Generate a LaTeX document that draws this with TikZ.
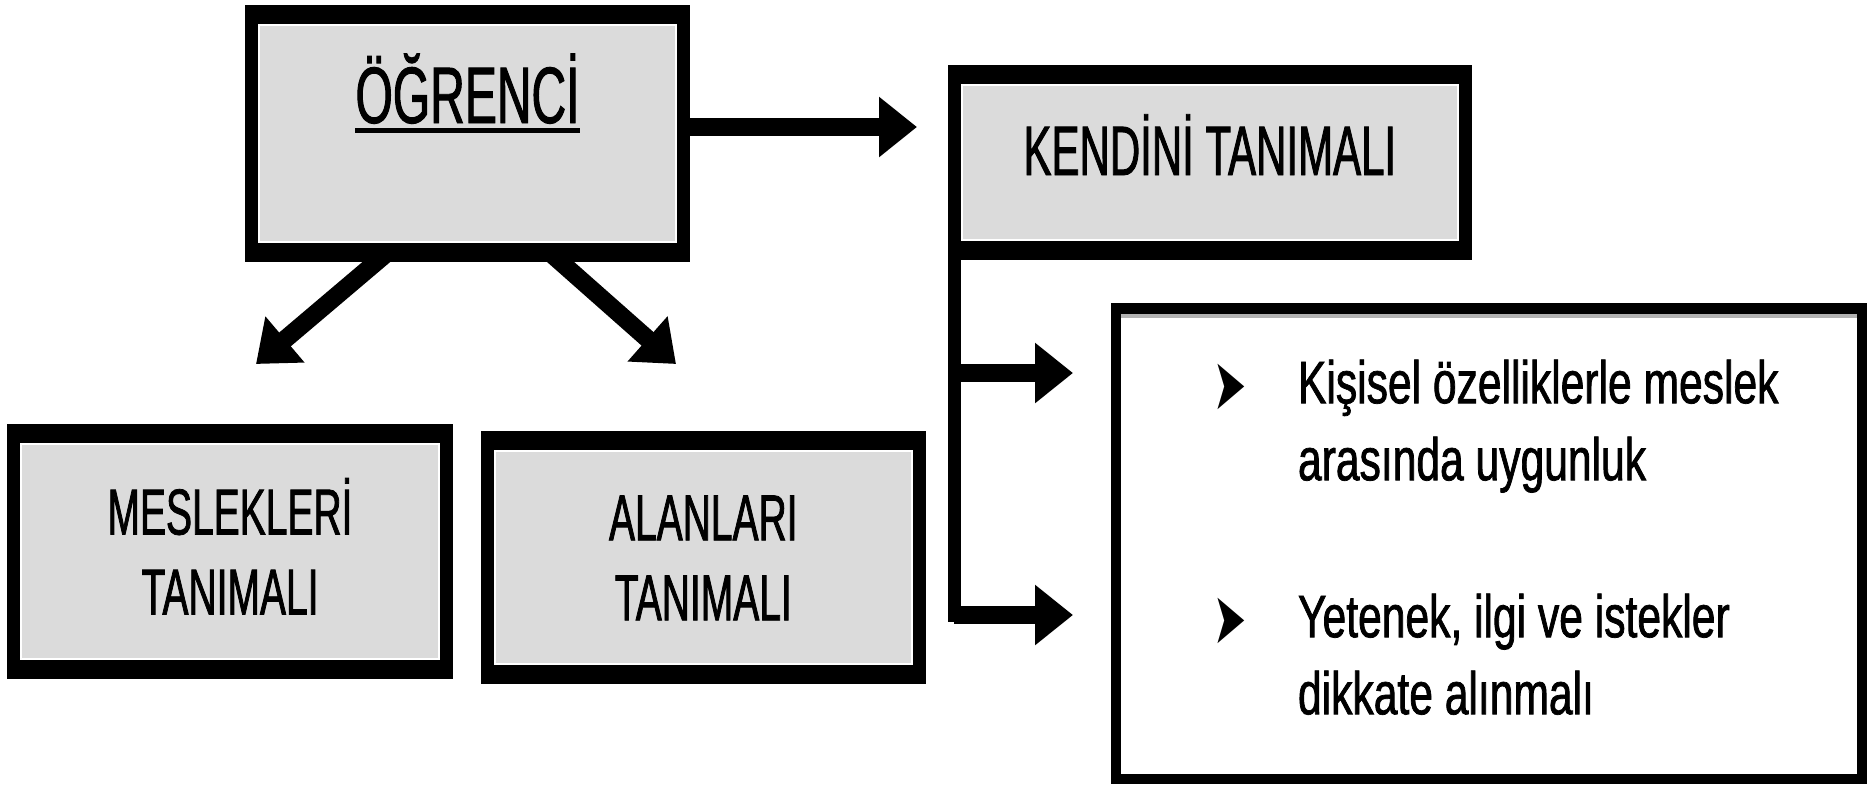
\documentclass[tikz,border=0pt]{standalone}
\usepackage{fontspec}
\setmainfont{Liberation Sans}
\newfontfamily\capsfont[FakeStretch=0.6, FakeBold=1.2]{Liberation Sans}
\newfontfamily\bodyfont[FakeStretch=0.71, FakeBold=1.2]{Liberation Sans}
\newfontfamily\bulletfont[FakeStretch=0.55]{DejaVu Sans}
\usepackage{tikz}
\usetikzlibrary{positioning,calc,arrows.meta}
\definecolor{boxgray}{RGB}{219,219,219}
\newcommand{\thickul}[1]{\setbox0\hbox{#1}\rlap{\rule[-5pt]{\wd0}{2.5pt}}\box0}
\newcommand{\twolines}[2]{\raisebox{-3.5pt}[\height][\depth]{\begin{tabular}{@{}c@{}}#1\\#2\end{tabular}}}
\newcommand{\listmark}{\makebox[37.5pt][l]{\hspace*{-5pt}\raisebox{-3pt}{\bulletfont\fontsize{36}{38.5}\selectfont ➤}}}
\tikzstyle{GrayNode}=[rectangle, fill=black, inner sep=0pt, path picture={\draw[white, line width=1.2pt, fill=boxgray] ($(path picture bounding box.south west)+(7pt,10pt)$) rectangle ($(path picture bounding box.north east)-(7pt,10pt)$);}]
\tikzstyle{ListNode}=[rectangle, fill=black, inner sep=0pt, path picture={\fill[white] ($(path picture bounding box.south west)+(5pt,5pt)$) rectangle ($(path picture bounding box.north east)-(5pt,5.5pt)$); \draw[gray!60, line width=2pt] ($(path picture bounding box.north west)+(5pt,-6.5pt)$) -- ($(path picture bounding box.north east)+(-5pt,-6.5pt)$);}]
\tikzstyle{BigArrow}=[line width=9pt, -{Triangle[length=19pt, width=29pt]}]
\tikzstyle{Trunk}=[line width=6.5pt, line cap=rect]

\begin{document}
\begin{tikzpicture}[x=0.5pt, y=-0.5pt]
    \useasboundingbox (0,0) rectangle (1872,784);

    \node (ogrenci) [GrayNode, minimum width=222.5pt, minimum height=128.5pt, text height=32pt, text depth=42.5pt, font=\capsfont\fontsize{40}{48}\selectfont] at (467.5,133.5) {\thickul{ÖĞRENCİ}};
    \node (kendini) [GrayNode, minimum width=262pt, minimum height=97.5pt, text height=30pt, text depth=17.5pt, font=\capsfont\fontsize{35}{42}\selectfont, right=128.5pt of ogrenci, yshift=-14.5pt] {KENDİNİ TANIMALI};
    \node (meslekler) [GrayNode, minimum width=223pt, minimum height=127.5pt, font=\capsfont\fontsize{32.5}{40}\selectfont, below=80.5pt of ogrenci, xshift=-118.75pt] {\twolines{MESLEKLERİ}{TANIMALI}};
    \node (alanlar) [GrayNode, minimum width=222.5pt, minimum height=126.5pt, font=\capsfont\fontsize{32.5}{40}\selectfont, right=13.5pt of meslekler, yshift=-3pt] {\twolines{ALANLARI}{TANIMALI}};
    \node (ozellik) [ListNode, minimum width=378pt, minimum height=240.5pt, below=21pt of kendini, xshift=139.5pt, font=\bodyfont\fontsize{30}{38.5}\selectfont] {\hspace*{12pt}%
      \begin{tabular}{@{}l@{}l@{}}
        \listmark & Kişisel özelliklerle meslek\\
        & arasında uygunluk\\[40pt]
        \listmark & Yetenek, ilgi ve istekler\\
        & dikkate alınmalı
      \end{tabular}};

    \coordinate (kendiniTip) at (917,127);
    \coordinate (mesleklerTip) at (256,364);
    \coordinate (alanlarTip) at (676,364);
    \coordinate (trunkTop) at ([xshift=3.5pt]kendini.south west);
    \coordinate (upperTip) at (1073,373);
    \coordinate (lowerTip) at (1073,615);

    \draw [BigArrow] ([yshift=3.25pt]ogrenci.east) -- (kendiniTip);
    \draw [BigArrow] ([xshift=-38.75pt, yshift=6pt]ogrenci.south) -- (mesleklerTip);
    \draw [BigArrow] ([xshift=40pt, yshift=6pt]ogrenci.south) -- (alanlarTip);
    \draw [Trunk] ([yshift=6pt]trunkTop) -- (trunkTop |- lowerTip);
    \draw [BigArrow] (trunkTop |- upperTip) -- (upperTip);
    \draw [BigArrow] (trunkTop |- lowerTip) -- (lowerTip);
\end{tikzpicture}
\end{document}
